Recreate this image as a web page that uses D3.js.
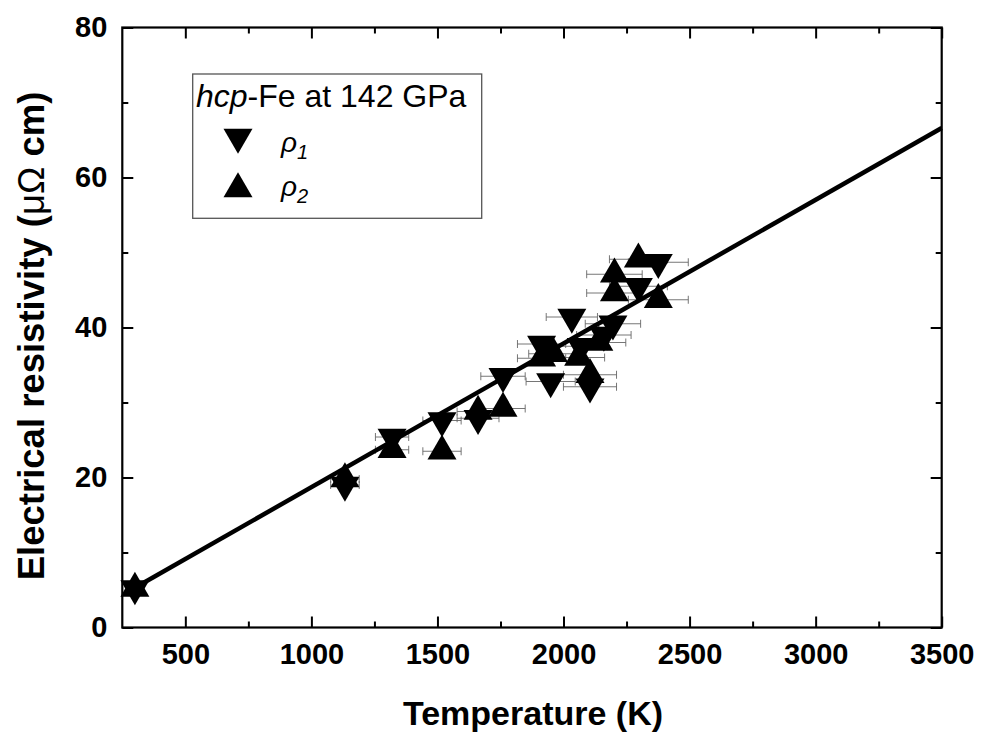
<!DOCTYPE html>
<html>
<head>
<meta charset="utf-8">
<script src="https://cdn.jsdelivr.net/npm/d3@7"></script>
<style>
  html, body { margin: 0; padding: 0; background: #fff; }
  svg { display: block; }
  text { font-family: "Liberation Sans", Arial, sans-serif; }
</style>
</head>
<body>
<svg id="chart" width="982" height="732"></svg>
<script>
// ρ1 measurements (down triangles): temperature (K) and resistivity (μΩ cm)
const tempRho1 = [300, 1133, 1320, 1518, 1661, 1760, 1913, 1949, 2033, 2070, 2105, 2160, 2196, 2297, 2376];
const rho1     = [5.2, 19.0, 25.4, 27.6, 27.9, 33.5, 37.8, 32.8, 41.4, 37.5, 32.1, 39.0, 40.5, 45.5, 48.7];

// ρ2 measurements (up triangles)
const tempRho2 = [300, 1133, 1320, 1518, 1661, 1760, 1913, 1960, 2060, 2105, 2140, 2202, 2202, 2297, 2376];
const rho2     = [5.2, 19.8, 23.7, 23.5, 28.8, 29.2, 35.9, 36.5, 36.0, 33.7, 38.0, 47.1, 44.6, 49.1, 43.7];

// relative uncertainty of the temperature readings
const tempErrFrac = 0.05;

// linear fit through both data sets
const fitTemp = [300, 3500];
const fitRho  = [5.3, 66.6];

// axis ticks
const xMajorTicks = [500, 1000, 1500, 2000, 2500, 3000, 3500];
const xMinorTicks = [750, 1250, 1750, 2250, 2750, 3250];
const yMajorTicks = [0, 20, 40, 60, 80];
const yMinorTicks = [10, 30, 50, 70];

const svg = d3.select("#chart");
const plot = { left: 122.3, right: 941.7, top: 27.5, bottom: 627.5 };

const x = d3.scaleLinear().domain([250, 3500]).range([plot.left, plot.right]);
const y = d3.scaleLinear().domain([0, 80]).range([plot.bottom, plot.top]);

// equilateral triangles (side ≈ 29 px), centred on their centroid
const side = 29;
const triArea = Math.sqrt(3) / 4 * side * side;
const triangle = d3.symbol(d3.symbolTriangle, triArea);

const series1 = tempRho1.map((t, i) => ({ t, r: rho1[i] }));
const series2 = tempRho2.map((t, i) => ({ t, r: rho2[i] }));

// axes: ticks point inward on all four sides
const axisFont = "bold 29px 'Liberation Sans', Arial, sans-serif";
function styleAxis(g) {
  g.select(".domain").remove();
  g.selectAll(".tick line").attr("stroke", "#000").attr("stroke-width", 2);
  g.selectAll(".tick text").style("font", axisFont).attr("fill", "#000");
}

svg.append("g").attr("transform", `translate(0,${plot.bottom})`)
  .call(d3.axisBottom(x).tickValues(xMajorTicks).tickSize(-11).tickPadding(16).tickFormat(d3.format("d")))
  .call(styleAxis);
svg.append("g").attr("transform", `translate(0,${plot.bottom})`)
  .call(d3.axisBottom(x).tickValues(xMinorTicks).tickSize(-6).tickFormat(""))
  .call(styleAxis);
svg.append("g").attr("transform", `translate(0,${plot.top})`)
  .call(d3.axisTop(x).tickValues(xMajorTicks).tickSize(-11).tickFormat(""))
  .call(styleAxis);
svg.append("g").attr("transform", `translate(0,${plot.top})`)
  .call(d3.axisTop(x).tickValues(xMinorTicks).tickSize(-6).tickFormat(""))
  .call(styleAxis);

svg.append("g").attr("transform", `translate(${plot.left},0)`)
  .call(d3.axisLeft(y).tickValues(yMajorTicks).tickSize(-11).tickPadding(15))
  .call(styleAxis);
svg.append("g").attr("transform", `translate(${plot.left},0)`)
  .call(d3.axisLeft(y).tickValues(yMinorTicks).tickSize(-6).tickFormat(""))
  .call(styleAxis);
svg.append("g").attr("transform", `translate(${plot.right},0)`)
  .call(d3.axisRight(y).tickValues(yMajorTicks).tickSize(-11).tickFormat(""))
  .call(styleAxis);
svg.append("g").attr("transform", `translate(${plot.right},0)`)
  .call(d3.axisRight(y).tickValues(yMinorTicks).tickSize(-6).tickFormat(""))
  .call(styleAxis);

// frame
svg.append("rect")
  .attr("x", plot.left).attr("y", plot.top)
  .attr("width", plot.right - plot.left).attr("height", plot.bottom - plot.top)
  .attr("fill", "none").attr("stroke", "#000").attr("stroke-width", 2.2);

// temperature error bars
const errG = svg.append("g").attr("stroke", "#666").attr("stroke-width", 0.9).attr("fill", "none");
const allPts = series1.concat(series2).filter(d => d.t > 500);
errG.selectAll("path").data(allPts).join("path")
  .attr("d", d => {
    const x0 = x(d.t * (1 - tempErrFrac)), x1 = x(d.t * (1 + tempErrFrac)), yy = y(d.r);
    return `M${x0},${yy - 4}V${yy + 4}M${x0},${yy}H${x1}M${x1},${yy - 4}V${yy + 4}`;
  });

// fit line
svg.append("path")
  .datum(fitTemp.map((t, i) => [t, fitRho[i]]))
  .attr("fill", "none").attr("stroke", "#000").attr("stroke-width", 4.5)
  .attr("d", d3.line().x(d => x(d[0])).y(d => y(d[1])));

// markers
svg.append("g").selectAll("path").data(series1).join("path")
  .attr("transform", d => `translate(${x(d.t)},${y(d.r)}) rotate(180)`)
  .attr("d", triangle)
  .attr("fill", "#000");
svg.append("g").selectAll("path").data(series2).join("path")
  .attr("transform", d => `translate(${x(d.t)},${y(d.r)})`)
  .attr("d", triangle)
  .attr("fill", "#000");

// axis titles
svg.append("text")
  .attr("x", 533).attr("y", 725)
  .attr("text-anchor", "middle")
  .style("font", "bold 34px 'Liberation Sans', Arial, sans-serif")
  .text("Temperature (K)");

const yTitle = svg.append("text")
  .attr("transform", `translate(44,336) rotate(-90)`)
  .attr("text-anchor", "middle")
  .style("font", "bold 36.5px 'Liberation Sans', Arial, sans-serif");
yTitle.append("tspan").text("Electrical resistivity (");
yTitle.append("tspan").style("font-weight", "normal").text("μΩ");
yTitle.append("tspan").text(" cm)");

// legend
const leg = svg.append("g");
leg.append("rect")
  .attr("x", 192.7).attr("y", 74).attr("width", 289).attr("height", 144.3)
  .attr("fill", "#fff").attr("stroke", "#555").attr("stroke-width", 1.3);
const legTitle = leg.append("text").attr("x", 196).attr("y", 107)
  .style("font", "32px 'Liberation Sans', Arial, sans-serif");
legTitle.append("tspan").style("font-style", "italic").text("hcp");
legTitle.append("tspan").text("-Fe at 142 GPa");

leg.append("path").attr("transform", "translate(238,137) rotate(180)")
  .attr("d", triangle).attr("fill", "#000");
leg.append("path").attr("transform", "translate(238,189)")
  .attr("d", triangle).attr("fill", "#000");

const legLabels = [["1", 152], ["2", 196]];
legLabels.forEach(([sub, yy]) => {
  const t = leg.append("text").attr("x", 281).attr("y", yy)
    .style("font", "italic 28px 'Liberation Sans', Arial, sans-serif");
  t.append("tspan").text("ρ");
  t.append("tspan").attr("dy", 7).style("font-size", "20px").text(sub);
});
</script>
</body>
</html>
